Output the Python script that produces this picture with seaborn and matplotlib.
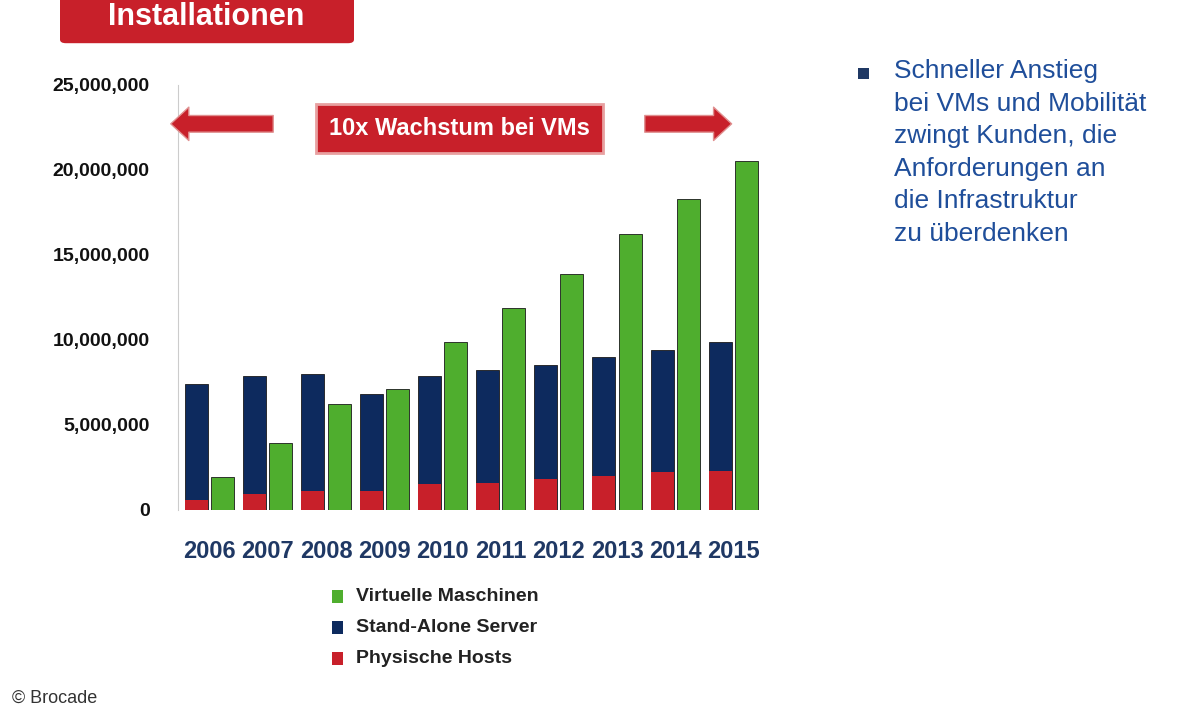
import matplotlib
matplotlib.use("Agg")
import matplotlib.pyplot as plt
import seaborn as sns
import pandas as pd
from matplotlib.ticker import FuncFormatter
from matplotlib.patches import FancyBboxPatch, Rectangle

plt.rcParams["font.family"] = "Liberation Sans"

years = ["2006","2007","2008","2009","2010","2011","2012","2013","2014","2015"]
physische_hosts = [0.6e6,0.9e6,1.1e6,1.1e6,1.5e6,1.6e6,1.8e6,2.0e6,2.2e6,2.3e6]
stand_alone = [6.8e6,7.0e6,6.9e6,5.7e6,6.4e6,6.6e6,6.7e6,7.0e6,7.2e6,7.6e6]
virtuelle = [1.9e6,3.9e6,6.2e6,7.1e6,9.9e6,11.9e6,13.9e6,16.2e6,18.3e6,20.5e6]

server_total = [p+s for p,s in zip(physische_hosts, stand_alone)]
df_top = pd.DataFrame({"Jahr": years*2, "Typ": ["Server"]*10 + ["VM"]*10,
                       "Wert": server_total + virtuelle})
df_red = pd.DataFrame({"Jahr": years*2, "Typ": ["Server"]*10 + ["VM"]*10,
                       "Wert": physische_hosts + [0]*10})

fig = plt.figure(figsize=(12, 7.2), dpi=100)
ax = fig.add_axes([0.148, 0.292, 0.485, 0.59])
kw = dict(x="Jahr", y="Wert", hue="Typ", hue_order=["Server","VM"], dodge=True,
          width=0.9, gap=0.12, ax=ax, legend=False, saturation=1)
sns.barplot(data=df_top, palette={"Server": "#0d2a5e", "VM": "#4fae2e"},
            edgecolor="#1a1a1a", linewidth=0.6, **kw)
sns.barplot(data=df_red, palette={"Server": "#c8202a", "VM": "#c8202a"},
            linewidth=0, **kw)
ax.set_ylim(0, 25e6)
ax.set_xlim(-0.55, 9.45)
ax.yaxis.set_major_formatter(FuncFormatter(lambda v, p: f"{int(v):,}"))
ax.set_yticks([0,5e6,10e6,15e6,20e6,25e6])
for s in ["top","right","bottom"]:
    ax.spines[s].set_visible(False)
ax.spines["left"].set_color("#cccccc")
ax.tick_params(length=0)
ax.set_xlabel(""); ax.set_ylabel("")
for t in ax.get_yticklabels():
    t.set_fontweight("bold"); t.set_fontsize(14); t.set_color("#111111")
for t in ax.get_xticklabels():
    t.set_fontweight("bold"); t.set_fontsize(17); t.set_color("#1f3864")
ax.tick_params(axis="x", pad=22)
ax.tick_params(axis="y", pad=20)

# banner
fig.text(0.383, 0.822, "10x Wachstum bei VMs", ha="center", va="center", fontsize=17,
         fontweight="bold", color="white",
         bbox=dict(boxstyle="square,pad=0.55", fc="#c8202a", ec="#e8a0a0", lw=2))
arrow = dict(arrowstyle="simple,head_width=2.4,head_length=1.3,tail_width=1.2",
             fc="#c8202a", ec="#e09090")
ax.annotate("", xy=(0.14, 0.828), xytext=(0.23, 0.828), xycoords="figure fraction",
            arrowprops=arrow)
ax.annotate("", xy=(0.612, 0.828), xytext=(0.535, 0.828), xycoords="figure fraction",
            arrowprops=arrow)

# title box
fig.patches.append(FancyBboxPatch((0.055, 0.945), 0.235, 0.07, boxstyle="round,pad=0.005",
                                  transform=fig.transFigure, fc="#c8202a", ec="none"))
fig.text(0.172, 0.977, "Installationen", ha="center", va="center", fontsize=22,
         fontweight="bold", color="white")

# legend
leg = [("Virtuelle Maschinen", "#4fae2e"), ("Stand-Alone Server", "#0d2a5e"),
       ("Physische Hosts", "#c8202a")]
for i, (lab, c) in enumerate(leg):
    y = 0.172 - i*0.043
    fig.patches.append(Rectangle((0.277, y-0.009), 0.009, 0.017, transform=fig.transFigure,
                                 fc=c, ec="none"))
    fig.text(0.297, y, lab, va="center", fontsize=14, fontweight="bold", color="#222222")

# right text
fig.patches.append(Rectangle((0.715, 0.89), 0.009, 0.016, transform=fig.transFigure,
                             fc="#1f3864", ec="none"))
fig.text(0.745, 0.918, "Schneller Anstieg\nbei VMs und Mobilität\nzwingt Kunden, die\n"
         "Anforderungen an\ndie Infrastruktur\nzu überdenken", va="top", fontsize=19,
         color="#1f4e9a", linespacing=1.45)

fig.text(0.01, 0.03, "© Brocade", fontsize=13, color="#333333", va="center")
fig.savefig("out.png", dpi=100)
